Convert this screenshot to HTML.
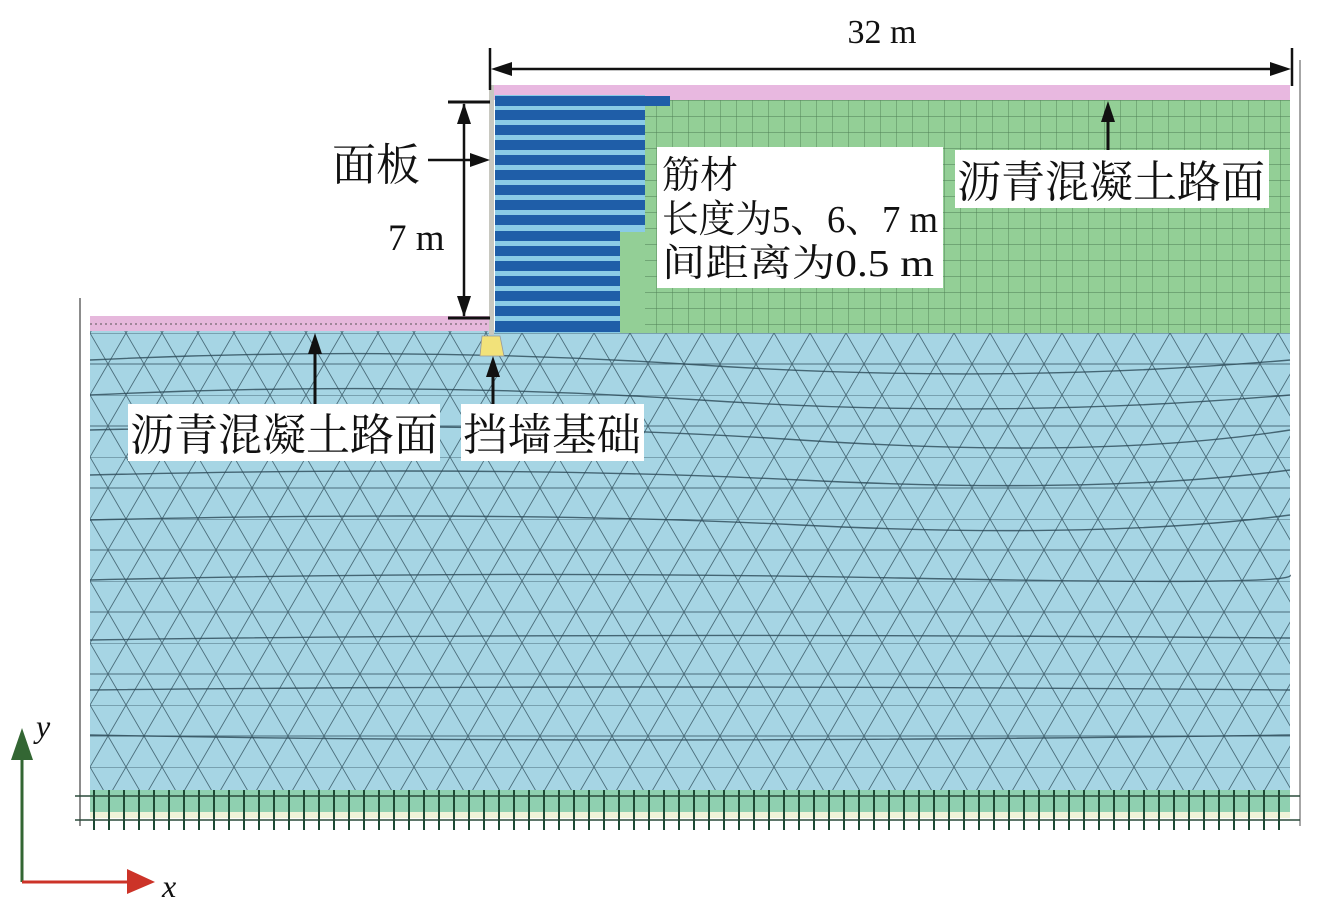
<!DOCTYPE html>
<html><head><meta charset="utf-8"><style>
html,body{margin:0;padding:0;background:#fff;}
svg{display:block;}
.t{font-family:"Liberation Serif","Noto Serif CJK SC",serif;fill:#111;}
</style></head><body>
<svg width="1323" height="918" viewBox="0 0 1323 918" xmlns="http://www.w3.org/2000/svg">
<defs>
<pattern id="tri" width="36" height="62" patternUnits="userSpaceOnUse" x="90" y="333">
<path d="M0 0H36M0 31H36M0 0L18 31L36 0M18 31L0 62M18 31L36 62" stroke="#2c4a58" stroke-width="0.9" fill="none" opacity="0.75"/>
</pattern>
<pattern id="grid" width="16" height="16" patternUnits="userSpaceOnUse" x="0" y="100">
<path d="M0 0H16M0 0V16" stroke="#3d6a44" stroke-width="0.9" fill="none" opacity="0.8"/>
</pattern>
<pattern id="ticks" width="15" height="40" patternUnits="userSpaceOnUse" x="90" y="790">
<path d="M4 0V40" stroke="#1d4a34" stroke-width="2"/>
</pattern>
</defs>

<line x1="80" y1="298" x2="80" y2="826" stroke="#666" stroke-width="1.5"/>
<line x1="1300" y1="60" x2="1300" y2="826" stroke="#888" stroke-width="1.5"/>

<rect x="90" y="330" width="1200" height="470" fill="#a6d5e4"/>
<rect x="90" y="330" width="1200" height="470" fill="url(#tri)"/>
<g stroke="#2c4a58" stroke-width="1.4" fill="none" opacity="0.8">
<path d="M90 360 Q400 345 700 365 T1290 360"/>
<path d="M90 395 Q400 380 700 400 T1290 395"/>
<path d="M90 430 Q500 420 800 440 T1290 430"/>
<path d="M90 475 Q500 465 800 480 T1290 470"/>
<path d="M90 520 Q500 510 800 525 T1290 515"/>
<path d="M90 580 Q500 570 900 578 T1290 575"/>
<path d="M90 640 Q600 632 1290 638"/>
<path d="M90 690 Q600 684 1290 690"/>
<path d="M90 735 Q600 745 1290 735"/>
</g>
<rect x="90" y="790" width="1200" height="22" fill="#8fd0b0"/>
<rect x="90" y="812" width="1200" height="6" fill="#eef3d8"/>
<rect x="90" y="790" width="1200" height="40" fill="url(#ticks)"/>
<line x1="75" y1="796" x2="1300" y2="796" stroke="#2a4a3a" stroke-width="1.5"/>
<line x1="75" y1="820" x2="1300" y2="820" stroke="#2a4a3a" stroke-width="1.5"/>

<rect x="90" y="316" width="400" height="15" fill="#e6b8dc"/>
<line x1="90" y1="324" x2="490" y2="324" stroke="#555" stroke-width="1" stroke-dasharray="2 3"/>

<rect x="490" y="85" width="800" height="15" fill="#e8b8e0"/>
<path d="M645 100H1290V333H620V232H645Z" fill="#93cf96"/>
<path d="M645 100H1290V333H620V232H645Z" fill="url(#grid)"/>

<rect x="495" y="95" width="150" height="238" fill="#8acbe6"/>
<rect x="620" y="232" width="25" height="101" fill="#93cf96"/>
<g fill="#1f5ea8">
<rect x="495" y="96" width="175" height="10"/>
<rect x="495" y="110" width="150" height="10"/><rect x="495" y="125" width="150" height="10"/>
<rect x="495" y="140" width="150" height="10"/><rect x="495" y="155" width="150" height="10"/>
<rect x="495" y="170" width="150" height="10"/><rect x="495" y="185" width="150" height="10"/>
<rect x="495" y="200" width="150" height="10"/><rect x="495" y="215" width="150" height="10"/>
<rect x="495" y="231" width="125" height="10"/><rect x="495" y="246" width="125" height="10"/>
<rect x="495" y="261" width="125" height="10"/><rect x="495" y="276" width="125" height="10"/>
<rect x="495" y="291" width="125" height="10"/><rect x="495" y="306" width="125" height="10"/>
<rect x="495" y="321" width="125" height="11"/>
</g>
<rect x="489" y="85" width="5" height="250" fill="#c8c8c0"/>
<path d="M482 336H500L504 356H480Z" fill="#f2e27a" stroke="#999" stroke-width="0.8"/>

<line x1="490" y1="48" x2="490" y2="90" stroke="#111" stroke-width="2.5"/>
<line x1="1292" y1="48" x2="1292" y2="86" stroke="#111" stroke-width="2.5"/>
<line x1="495" y1="69" x2="1285" y2="69" stroke="#111" stroke-width="2.5"/>
<path d="M491 69L512 62L512 76Z" fill="#111"/>
<path d="M1291 69L1270 62L1270 76Z" fill="#111"/>
<text x="882" y="43" class="t" font-size="34" text-anchor="middle">32 m</text>

<line x1="448" y1="102" x2="490" y2="102" stroke="#111" stroke-width="3"/>
<line x1="448" y1="318" x2="490" y2="318" stroke="#111" stroke-width="3"/>
<line x1="464" y1="104" x2="464" y2="316" stroke="#111" stroke-width="2.5"/>
<path d="M464 103L457 124H471Z M464 317L457 296H471Z" fill="#111"/>
<rect x="385" y="213" width="72" height="48" fill="#fff"/>
<text x="388" y="250" class="t" font-size="37">7 m</text>

<text x="332" y="180" class="t" font-size="44">面板</text>
<line x1="428" y1="160" x2="486" y2="160" stroke="#111" stroke-width="2.5"/>
<path d="M490 160L470 153V167Z" fill="#111"/>

<rect x="657" y="147" width="286" height="141" fill="#fff"/>
<text class="t" font-size="38" x="662" y="188">筋材</text>
<text class="t" font-size="38" x="662" y="232" textLength="276" lengthAdjust="spacingAndGlyphs">长度为5、6、7 m</text>
<text class="t" font-size="38" x="662" y="276" textLength="272" lengthAdjust="spacingAndGlyphs">间距离为0.5 m</text>

<line x1="1108" y1="150" x2="1108" y2="112" stroke="#111" stroke-width="3"/>
<path d="M1108 101L1101 122H1115Z" fill="#111"/>
<rect x="955" y="150" width="314" height="58" fill="#fff"/>
<text x="957" y="197" class="t" font-size="44" textLength="308" lengthAdjust="spacingAndGlyphs">沥青混凝土路面</text>

<line x1="315" y1="405" x2="315" y2="345" stroke="#111" stroke-width="3"/>
<path d="M315 333L308 354H322Z" fill="#111"/>
<rect x="128" y="404" width="312" height="57" fill="#fff"/>
<text x="130" y="450" class="t" font-size="44" textLength="308" lengthAdjust="spacingAndGlyphs">沥青混凝土路面</text>

<line x1="493" y1="405" x2="493" y2="368" stroke="#111" stroke-width="3"/>
<path d="M493 356L486 377H500Z" fill="#111"/>
<rect x="461" y="404" width="183" height="57" fill="#fff"/>
<text x="463" y="450" class="t" font-size="44" textLength="178" lengthAdjust="spacingAndGlyphs">挡墙基础</text>

<line x1="22" y1="882" x2="22" y2="755" stroke="#336633" stroke-width="3"/>
<path d="M22 728L11 760H33Z" fill="#336633"/>
<line x1="22" y1="882" x2="130" y2="882" stroke="#cc3328" stroke-width="3"/>
<path d="M155 882L127 869V894Z" fill="#cc3328"/>
<text x="36" y="737" class="t" font-size="32" font-style="italic">y</text>
<text x="162" y="897" class="t" font-size="32" font-style="italic">x</text>
</svg>
</body></html>
